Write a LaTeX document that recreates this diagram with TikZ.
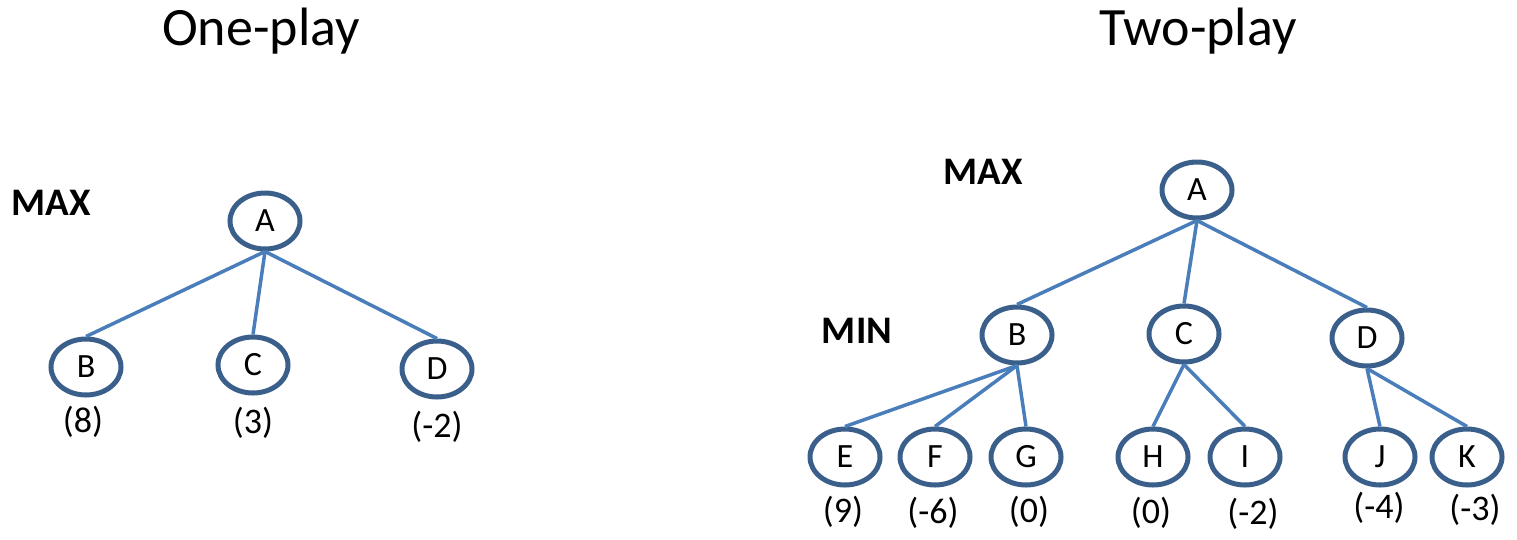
\documentclass[tikz,border=0pt]{standalone}
\usepackage{fontspec}
\setmainfont{Carlito}
\usetikzlibrary{shapes.geometric}
\definecolor{connblue}{HTML}{4A7EBB}
\definecolor{nodeblue}{HTML}{3A5F8B}
\begin{document}
\begin{tikzpicture}[x=1pt,y=-1pt,
  tn/.style={ellipse,draw=nodeblue,line width=5pt,inner sep=0pt,
    minimum width=70pt,minimum height=56pt,font=\fontsize{34}{34}\selectfont},
  val/.style={font=\fontsize{36}{36}\selectfont},
  lvl/.style={font=\bfseries\fontsize{39}{39}\selectfont,anchor=base},
  ttl/.style={font=\fontsize{54}{54}\selectfont,anchor=base},
  conn/.style={draw=connblue,line width=3.5pt}]
\useasboundingbox (0,0) rectangle (1517,539);

% titles
\node[ttl] (t1) at (261,45) {One-play};
\node[ttl] (t2) at (1198,45) {Two-play};

% ---- one-play tree
\node[lvl] (max1) at (51,215) {MAX};
\node[tn] (lA) at (265,221) {A};
\node[tn] (lB) at (86,367) {B};
\node[tn] (lC) at (253,365) {C};
\node[tn] (lD) at (437,369) {D};
\node[val] (vB) at (83,422) {(8)};
\node[val] (vC) at (253,423) {(3)};
\node[val] (vD) at (437,427) {(-2)};
\foreach \c in {lB,lC,lD} \draw[conn] (lA.south) -- (\c.north);

% ---- two-play tree
\node[lvl] (max2) at (983,184) {MAX};
\node[lvl] (min2) at (857,343) {MIN};
\node[tn] (A) at (1197,190) {A};
\node[tn] (B) at (1017,335) {B};
\node[tn] (C) at (1184,334) {C};
\node[tn] (D) at (1367,338) {D};
\node[tn] (E) at (845,457) {E};
\node[tn] (F) at (935,457) {F};
\node[tn] (G) at (1026,457) {G};
\node[tn] (H) at (1153,457) {H};
\node[tn] (I) at (1245,457) {I};
\node[tn] (J) at (1380,457) {J};
\node[tn] (K) at (1467,457) {K};
\node[val] (vE) at (843,512) {(9)};
\node[val] (vF) at (933,513) {(-6)};
\node[val] (vG) at (1029,512) {(0)};
\node[val] (vH) at (1151,513) {(0)};
\node[val] (vI) at (1253,514) {(-2)};
\node[val] (vJ) at (1379,508) {(-4)};
\node[val] (vK) at (1475,510) {(-3)};
\foreach \c in {B,C,D} \draw[conn] (A.south) -- (\c.north);
\foreach \c in {E,F,G} \draw[conn] (B.south) -- (\c.north);
\foreach \c in {H,I} \draw[conn] (C.south) -- (\c.north);
\foreach \c in {J,K} \draw[conn] (D.south) -- (\c.north);
\end{tikzpicture}
\end{document}
